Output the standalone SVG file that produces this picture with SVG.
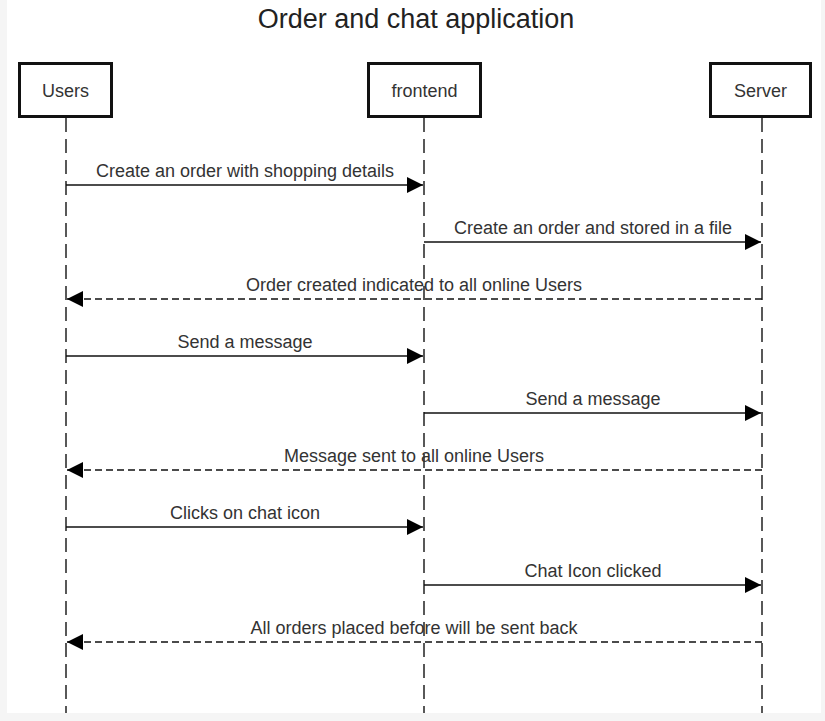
<svg xmlns="http://www.w3.org/2000/svg" width="825" height="721" viewBox="0 0 825 721">
<defs>
<style>
text{font-family:"Liberation Sans",Arial,sans-serif;fill:#333;}
.title{font-size:27px;fill:#222;text-anchor:middle;}
.lbl{font-size:18px;text-anchor:middle;}
.box{fill:#fff;stroke:#111;stroke-width:3;}
.life{stroke:#222;stroke-width:1.5;stroke-dasharray:14 7;fill:none;}
.msg{stroke:#111;stroke-width:1.5;fill:none;}
.ret{stroke:#111;stroke-width:1.5;stroke-dasharray:7 4;fill:none;}
</style>
<marker id="ah" viewBox="0 0 16 16" refX="16" refY="8" markerWidth="16" markerHeight="16" markerUnits="userSpaceOnUse" orient="auto">
<path d="M0,0 L16,8 L0,16 Z" fill="#000"/>
</marker>
</defs>
<rect x="0" y="0" width="825" height="721" fill="#f5f5f5"/>
<rect x="7" y="0" width="814" height="713" fill="#fff"/>
<text class="title" x="416" y="28">Order and chat application</text>

<g id="lifelines">
<line class="life" x1="66" y1="118" x2="66" y2="713"/>
<line class="life" x1="424" y1="118" x2="424" y2="713"/>
<line class="life" x1="762" y1="118" x2="762" y2="713"/>
</g>

<g id="users">
<rect class="box" x="19.5" y="63.5" width="92" height="53"/>
<text class="lbl" x="65.5" y="97">Users</text>
</g>
<g id="frontend">
<rect class="box" x="368.5" y="63.5" width="112" height="53"/>
<text class="lbl" x="424.5" y="97">frontend</text>
</g>
<g id="server">
<rect class="box" x="710.5" y="63.5" width="100" height="53"/>
<text class="lbl" x="760.5" y="97">Server</text>
</g>

<g id="connectors">
<line class="msg" x1="66" y1="185" x2="423" y2="185" marker-end="url(#ah)"/>
<text class="lbl" x="245" y="177">Create an order with shopping details</text>
<line class="msg" x1="424" y1="242" x2="761" y2="242" marker-end="url(#ah)"/>
<text class="lbl" x="593" y="234">Create an order and stored in a file</text>
<line class="ret" x1="762" y1="299" x2="67" y2="299" marker-end="url(#ah)"/>
<text class="lbl" x="414" y="291">Order created indicated to all online Users</text>
<line class="msg" x1="66" y1="356" x2="423" y2="356" marker-end="url(#ah)"/>
<text class="lbl" x="245" y="348">Send a message</text>
<line class="msg" x1="424" y1="413" x2="761" y2="413" marker-end="url(#ah)"/>
<text class="lbl" x="593" y="405">Send a message</text>
<line class="ret" x1="762" y1="470" x2="67" y2="470" marker-end="url(#ah)"/>
<text class="lbl" x="414" y="462">Message sent to all online Users</text>
<line class="msg" x1="66" y1="527" x2="423" y2="527" marker-end="url(#ah)"/>
<text class="lbl" x="245" y="519">Clicks on chat icon</text>
<line class="msg" x1="424" y1="585" x2="761" y2="585" marker-end="url(#ah)"/>
<text class="lbl" x="593" y="577">Chat Icon clicked</text>
<line class="ret" x1="762" y1="642" x2="67" y2="642" marker-end="url(#ah)"/>
<text class="lbl" x="414" y="634">All orders placed before will be sent back</text>
</g>
</svg>
